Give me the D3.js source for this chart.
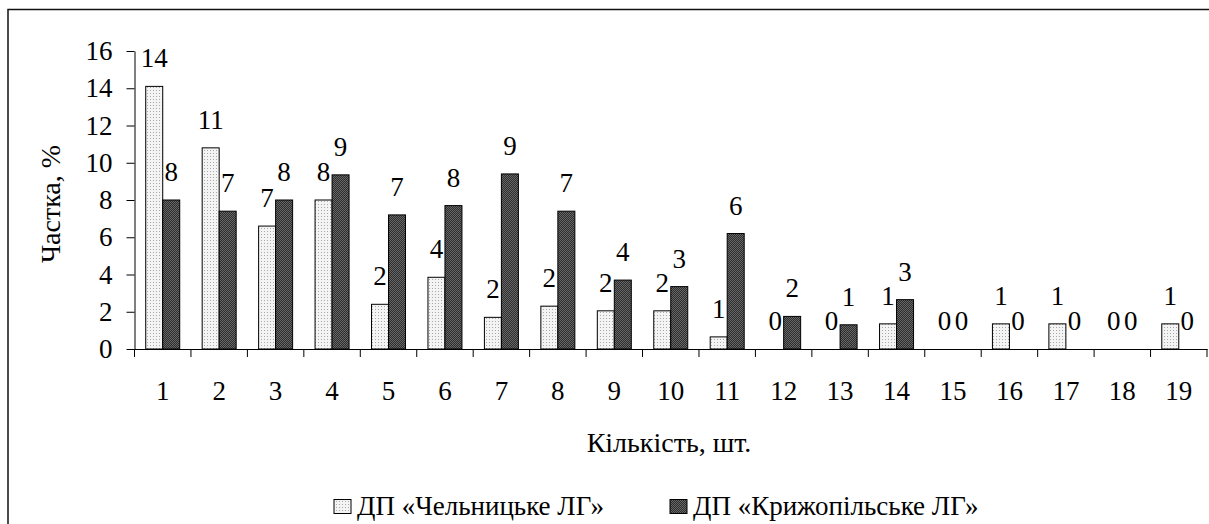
<!DOCTYPE html>
<html><head><meta charset="utf-8">
<script src="https://cdn.jsdelivr.net/npm/d3@7"></script>
<style>body{margin:0;background:#fff}svg{display:block}</style>
</head><body><svg id="c" width="1209" height="524"></svg>
<script>
const categories = ["1","2","3","4","5","6","7","8","9","10","11","12","13","14","15","16","17","18","19"];
const seriesNames = ["ДП «Чельницьке ЛГ»", "ДП «Крижопільське ЛГ»"];
const chelnytske = [14.1, 10.8, 6.6, 8.0, 2.4, 3.85, 1.7, 2.3, 2.05, 2.05, 0.65, 0, 0, 1.35, 0, 1.35, 1.35, 0, 1.35];
const kryzhopil  = [8.0, 7.4, 8.0, 9.35, 7.2, 7.7, 9.4, 7.4, 3.7, 3.35, 6.2, 1.75, 1.3, 2.65, 0, 0, 0, 0, 0];
const yTicks = [0,2,4,6,8,10,12,14,16];
const xTitle = "Кількість, шт.";
const yTitle = "Частка, %";

const FF = '"Liberation Serif"';
const FS = 27;
const svg = d3.select("#c");
const defs = svg.append("defs");
const p1 = defs.append("pattern").attr("id","dots").attr("patternUnits","userSpaceOnUse").attr("width",3).attr("height",3);
p1.append("rect").attr("width",3).attr("height",3).attr("fill","#f4f4f4");
p1.append("rect").attr("width",1).attr("height",1).attr("fill","#a8a8a8");
const p2 = defs.append("pattern").attr("id","dark").attr("patternUnits","userSpaceOnUse").attr("width",2).attr("height",2);
p2.append("rect").attr("width",2).attr("height",2).attr("fill","#2e2e2e");
p2.append("rect").attr("width",1).attr("height",1).attr("fill","#666");
p2.append("rect").attr("x",1).attr("y",1).attr("width",1).attr("height",1).attr("fill","#666");

function st(sel, fs){ return sel.attr("font-family",null).style("font-family",FF).style("font-size",(fs||FS)+"px").attr("fill","#000"); }

// frame
svg.append("rect").attr("x",8).attr("y",9.5).attr("width",1240).attr("height",560)
  .attr("fill","none").attr("stroke","#111").attr("stroke-width",1.5);

const x = d3.scaleBand().domain(categories).range([134.5, 1207]).padding(0);
const y = d3.scaleLinear().domain([0,16]).range([349, 51]);
const bw = 17;
const g = svg.append("g");

// y axis
const ya = g.append("g").attr("transform","translate(134.5,0)")
  .call(d3.axisLeft(y).tickValues(yTicks).tickSize(8).tickPadding(14).tickSizeOuter(0));
ya.attr("font-family",null).attr("font-size",null);
ya.select(".domain").attr("stroke","#000");
ya.selectAll(".tick line").attr("stroke","#000");
st(ya.selectAll("text"));

// x axis
const xa = g.append("g").attr("transform","translate(0,349)")
  .call(d3.axisBottom(x).tickSize(0).tickSizeOuter(0));
xa.attr("font-family",null).attr("font-size",null);
xa.select(".domain").attr("stroke","#000");
st(xa.selectAll("text")).attr("y",51).attr("dy",0);
const edges = categories.map(c => x(c)).concat([x.range()[1]]);
g.selectAll(".edge").data(edges).join("line").attr("class","edge")
  .attr("x1",d=>d).attr("x2",d=>d).attr("y1",349).attr("y2",357).attr("stroke","#000");

// bars
const data = categories.map((c,i)=>({c, a:chelnytske[i], b:kryzhopil[i]}));
const cx = c => x(c) + x.bandwidth()/2;
g.selectAll(".ba").data(data).join("rect").attr("class","ba")
  .attr("x",d=>cx(d.c)-bw).attr("width",bw).attr("y",d=>y(d.a)).attr("height",d=>y(0)-y(d.a))
  .attr("fill","url(#dots)").attr("stroke","#000").attr("stroke-width",d=>d.a>0?1:0);
g.selectAll(".bb").data(data).join("rect").attr("class","bb")
  .attr("x",d=>cx(d.c)).attr("width",bw).attr("y",d=>y(d.b)).attr("height",d=>y(0)-y(d.b))
  .attr("fill","url(#dark)").attr("stroke","#000").attr("stroke-width",d=>d.b>0?1:0);

// value labels
st(g.selectAll(".la").data(data).join("text").attr("class","la")
  .attr("x",d=>cx(d.c)-bw/2).attr("y",d=>y(d.a)-19).attr("text-anchor","middle"))
  .text(d=>Math.round(d.a));
st(g.selectAll(".lb").data(data).join("text").attr("class","lb")
  .attr("x",d=>cx(d.c)+bw/2).attr("y",d=>y(d.b)-19).attr("text-anchor","middle"))
  .text(d=>Math.round(d.b));

// titles
st(svg.append("text").attr("transform","translate(60,204) rotate(-90)").attr("text-anchor","middle"), 28).text(yTitle);
st(svg.append("text").attr("x",669).attr("y",452).attr("text-anchor","middle"), 28).text(xTitle);

// legend
const lx = [334, 670];
seriesNames.forEach((n,i)=>{
  svg.append("rect").attr("x",lx[i]).attr("y",499.5).attr("width",17).attr("height",14)
    .attr("fill", i===0?"url(#dots)":"url(#dark)").attr("stroke","#000");
  st(svg.append("text").attr("x",lx[i]+23).attr("y",515)).text(n);
});
</script></body></html>
